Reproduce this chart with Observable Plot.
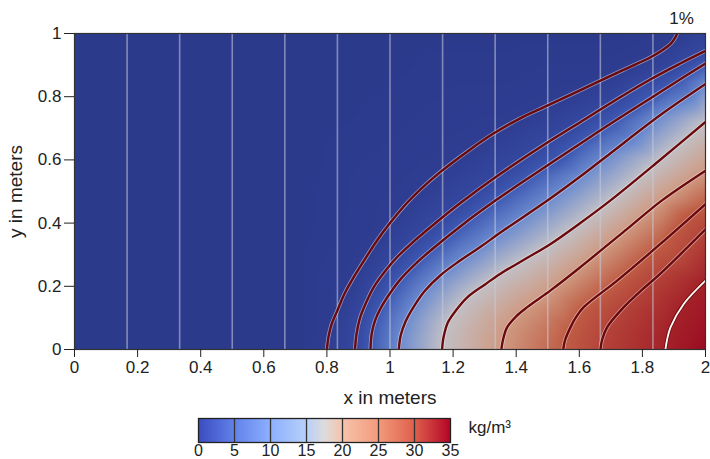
<!DOCTYPE html>
<html><head><meta charset="utf-8">
<script src="https://cdn.jsdelivr.net/npm/d3@7"></script>
<script src="https://cdn.jsdelivr.net/npm/@observablehq/plot@0.6"></script>
<style>
body{margin:0;background:#fff;}
#chart{width:710px;height:459px;overflow:hidden;}
#chart svg{display:block;}
</style></head><body><div id="chart"></div>
<script>
// contour levels (kg/m3) of the nine iso-lines, outermost = 1%
const levels = [0.35, 3.5, 7, 10.5, 14, 17.5, 21, 24.5, 28];
// iso-line coordinates: [x, y] in meters
const c1 = [[0.800,0],[0.805,0.04],[0.815,0.08],[0.833,0.123],[0.855,0.175],[0.885,0.229],[0.92,0.285],[0.959,0.345],[1.0,0.4],[1.055,0.465],[1.1,0.51],[1.16,0.562],[1.25,0.63],[1.329,0.684],[1.41,0.73],[1.488,0.767],[1.57,0.805],[1.657,0.846],[1.74,0.885],[1.826,0.925],[1.862,0.946],[1.89,0.968],[1.903,0.985],[1.91,1.0]];
const c2 = [[0.889,0],[0.894,0.05],[0.905,0.1],[0.925,0.15],[0.95,0.2],[0.99,0.255],[1.025,0.295],[1.065,0.333],[1.15,0.405],[1.225,0.465],[1.35,0.556],[1.488,0.648],[1.604,0.72],[1.7,0.78],[1.826,0.855],[1.92,0.905],[2.0,0.945]];
const c3 = [[0.938,0],[0.942,0.05],[0.952,0.09],[0.97,0.13],[1.0,0.178],[1.033,0.222],[1.085,0.275],[1.139,0.322],[1.23,0.395],[1.335,0.472],[1.45,0.55],[1.604,0.652],[1.7,0.715],[1.826,0.795],[1.92,0.855],[2.0,0.905]];
const c4 = [[1.028,0],[1.034,0.045],[1.05,0.09],[1.075,0.135],[1.11,0.185],[1.16,0.235],[1.22,0.28],[1.287,0.325],[1.35,0.37],[1.5,0.472],[1.604,0.548],[1.7,0.622],[1.857,0.742],[2.0,0.84]];
const c5 = [[1.165,0],[1.17,0.04],[1.183,0.085],[1.21,0.125],[1.245,0.165],[1.3,0.205],[1.35,0.24],[1.43,0.287],[1.509,0.334],[1.6,0.398],[1.699,0.472],[1.85,0.595],[2.0,0.72]];
const c6 = [[1.353,0],[1.358,0.03],[1.371,0.07],[1.4,0.105],[1.435,0.134],[1.509,0.187],[1.6,0.258],[1.75,0.38],[1.862,0.472],[2.0,0.566]];
const c7 = [[1.549,0],[1.555,0.03],[1.572,0.07],[1.59,0.103],[1.614,0.134],[1.72,0.218],[1.857,0.334],[2.0,0.46]];
const c8 = [[1.667,0],[1.672,0.03],[1.688,0.07],[1.741,0.134],[1.8,0.19],[1.857,0.24],[2.0,0.38]];
const c9 = [[1.873,0],[1.878,0.03],[1.889,0.07],[1.931,0.144],[2.0,0.218]];
const contourLines = [c1, c2, c3, c4, c5, c6, c7, c8, c9];
// extra field readings away from the iso-lines: [x, y, value]
const background = [[0,0,0],[0,0.5,0],[0,1,0],[0.4,0,0],[0.4,0.5,0],[0.4,1,0],[0.7,0,0],[0.7,0.35,0],[0.75,0.7,0],[0.8,1,0],[1.1,1,0],[1.4,1,0],[1.7,1,0],[1.96,1,1.2],[2,1,1.8],[1.94,0,31.5],[2,0,35],[2,0.11,31.5]];
// light vertical lines in the field
const gridX = [0.1667, 0.3333, 0.5, 0.6667, 0.8333, 1, 1.1667, 1.3333, 1.5, 1.6667, 1.8333];
const xTicks = [0, 0.2, 0.4, 0.6, 0.8, 1, 1.2, 1.4, 1.6, 1.8, 2];
const yTicks = [0, 0.2, 0.4, 0.6, 0.8, 1];
const legendTicks = [0, 5, 10, 15, 20, 25, 30, 35];
// colours of the field (as rendered) and of the legend bar
const fieldStops = [0, 0.35, 3.5, 7, 10.5, 14, 17.5, 21, 24.5, 28, 35];
const fieldColors = ["#2c3a8c","#2e3d91","#34479f","#3e59b3","#6c8bcf","#c2c0c6","#cf9a82","#c05d45","#b4443a","#a42229","#9b0a22"];
const legendStops = [0, 5, 10, 15, 17.5, 20, 25, 30, 35];
const legendColors = ["#3b4cc0","#6282ea","#8db0fe","#b8d0f9","#dddcdc","#f5c4ad","#f49a7b","#de604d","#b40426"];

const samples = contourLines.flatMap((pts, i) => pts.map(([x, y]) => ({x, y, v: levels[i]})))
  .concat(background.map(([x, y, v]) => ({x, y, v})));
const lines = contourLines.flatMap((pts, i) => pts.map(([x, y]) => ({x, y, id: i})));
const darkLines = lines.filter(d => d.id < 8);
const whiteLine = lines.filter(d => d.id === 8);
const fmt = d3.format("~g");
const font = "'Liberation Sans', Arial, sans-serif";

const main = Plot.plot({
  width: 710, height: 408,
  marginLeft: 74, marginRight: 5, marginTop: 33, marginBottom: 59,
  style: {fontFamily: font, fontSize: "17px", color: "#222", background: "white"},
  x: {domain: [0, 2]},
  y: {domain: [0, 1]},
  color: {type: "linear", domain: fieldStops, range: fieldColors, interpolate: "rgb"},
  marks: [
    Plot.raster(samples, {x: "x", y: "y", fill: "v", x1: 0, x2: 2, y1: 0, y2: 1, interpolate: "barycentric", pixelSize: 1}),
    Plot.ruleX(gridX, {stroke: "#c9ccdc", strokeOpacity: 0.55, strokeWidth: 1.6}),
    Plot.line(darkLines, {x: "x", y: "y", z: "id", curve: "catmull-rom", stroke: "#ffffff", strokeOpacity: 0.45, strokeWidth: 4, clip: true}),
    Plot.line(darkLines, {x: "x", y: "y", z: "id", curve: "catmull-rom", stroke: "#6a0a0e", strokeWidth: 2.4, clip: true}),
    Plot.line(whiteLine, {x: "x", y: "y", z: "id", curve: "catmull-rom", stroke: "#7a1212", strokeWidth: 3.8, clip: true}),
    Plot.line(whiteLine, {x: "x", y: "y", z: "id", curve: "catmull-rom", stroke: "#ffffff", strokeWidth: 1.8, clip: true}),
    Plot.frame({stroke: "#333", strokeWidth: 1.2}),
    Plot.axisX({ticks: xTicks, tickFormat: fmt, tickSize: 8, tickPadding: 3, label: null}),
    Plot.axisY({ticks: yTicks, tickFormat: fmt, tickSize: 10, tickPadding: 3, label: null}),
    Plot.text(["x in meters"], {frameAnchor: "bottom", dy: 48, lineAnchor: "middle", textAnchor: "middle", fontSize: 19, fill: "#222"}),
    Plot.text(["y in meters"], {frameAnchor: "left", dx: -59, rotate: -90, textAnchor: "middle", lineAnchor: "middle", fontSize: 19, fill: "#222"}),
    Plot.text(["1%"], {frameAnchor: "top-right", dx: -24, dy: -15, textAnchor: "middle", lineAnchor: "middle", fontSize: 17, fill: "#222"})
  ]
});

const legend = Plot.plot({
  width: 710, height: 51,
  marginLeft: 198, marginRight: 260, marginTop: 10, marginBottom: 17,
  style: {fontFamily: font, fontSize: "16px", color: "#222", background: "white", overflow: "visible"},
  x: {domain: [0, 35]},
  y: {domain: [0, 1], axis: null},
  color: {type: "linear", domain: legendStops, range: legendColors, interpolate: "rgb"},
  marks: [
    Plot.raster({x1: 0, x2: 35, y1: 0, y2: 1, fill: (x, y) => x, pixelSize: 1}),
    Plot.ruleX(legendTicks.slice(1, -1), {stroke: "#333", strokeWidth: 1.3}),
    Plot.frame({stroke: "#222", strokeWidth: 1.3}),
    Plot.axisX({ticks: legendTicks, tickSize: 0, tickPadding: 2, label: null}),
    Plot.text(["kg/m³"], {frameAnchor: "top-right", dx: 18, dy: 9, textAnchor: "start", lineAnchor: "middle", fontSize: 17, fill: "#222"})
  ]
});

document.getElementById("chart").append(main, legend);
</script>
</body></html>
